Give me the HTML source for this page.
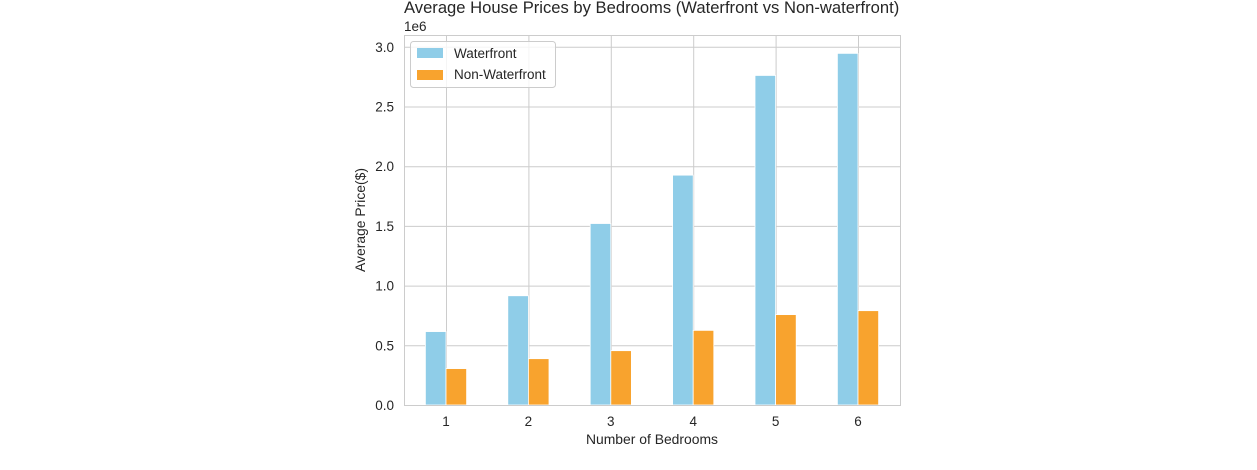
<!DOCTYPE html>
<html><head><meta charset="utf-8"><style>
body{margin:0;background:#fff;}
svg text{font-family:"Liberation Sans",sans-serif;fill:#262626;}
</style></head><body>
<svg id="chart" width="1257" height="465">
<text x="404" y="13" font-size="16.6">Average House Prices by Bedrooms (Waterfront vs Non-waterfront)</text>
<text x="404" y="31" font-size="13.5">1e6</text>
<g id="grid"></g><g id="bars"></g><g id="ticks"></g>
<rect x="404.5" y="35.5" width="496" height="370" fill="none" stroke="#cccccc"/>
<text x="652" y="444" font-size="13.9" text-anchor="middle">Number of Bedrooms</text>
<text transform="translate(365,220) rotate(-90)" font-size="13.9" text-anchor="middle">Average Price($)</text>
<g>
<rect x="410.5" y="41.5" width="145" height="46" rx="3" fill="#fff" stroke="#cccccc" fill-opacity="0.8"/>
<rect x="417" y="48" width="26" height="10" fill="#8fcde8"/>
<text x="454" y="58" font-size="13.5">Waterfront</text>
<rect x="417" y="70" width="26" height="10" fill="#f8a32e"/>
<text x="454" y="79" font-size="13.5">Non-Waterfront</text>
</g>
</svg>
<script>
const categories=["1","2","3","4","5","6"];
const waterfront=[0.615,0.915,1.52,1.925,2.76,2.945];
const nonWaterfront=[0.305,0.388,0.455,0.625,0.757,0.79];
const yTicks=[0,0.5,1.0,1.5,2.0,2.5,3.0];
const yTickLabels=["0.0","0.5","1.0","1.5","2.0","2.5","3.0"];
const NS="http://www.w3.org/2000/svg";
const y=v=>405-v*119.4;
const x=i=>446+i*82.4;
function mk(tag,attrs,parent){const e=document.createElementNS(NS,tag);for(const k in attrs)e.setAttribute(k,attrs[k]);document.getElementById(parent).appendChild(e);return e;}
yTicks.forEach((t,i)=>{
 const l=mk('line',{x1:404,x2:900,y1:y(t)+0.5,y2:y(t)+0.5,stroke:'#cccccc'},'grid');
 
 
 const tx=mk('text',{x:394,y:y(t)+5,'font-size':13.5,'text-anchor':'end'},'ticks');
 tx.textContent=yTickLabels[i];
 
 
});
categories.forEach((c,i)=>{
 const l=mk('line',{x1:x(i)+0.5,x2:x(i)+0.5,y1:35,y2:405,stroke:'#cccccc'},'grid');
 
 
 const b1=mk('rect',{x:x(i)-20.6,y:y(waterfront[i]),width:20.6,height:405-y(waterfront[i]),fill:'#8fcde8',stroke:'#fff','stroke-width':0.8},'bars');
 
 
 const b2=mk('rect',{x:x(i),y:y(nonWaterfront[i]),width:20.6,height:405-y(nonWaterfront[i]),fill:'#f8a32e',stroke:'#fff','stroke-width':0.8},'bars');
 
 
 const tx=mk('text',{x:x(i),y:426,'font-size':13.5,'text-anchor':'middle'},'ticks');
 tx.textContent=c;
 
 
});
</script>
</body></html>
